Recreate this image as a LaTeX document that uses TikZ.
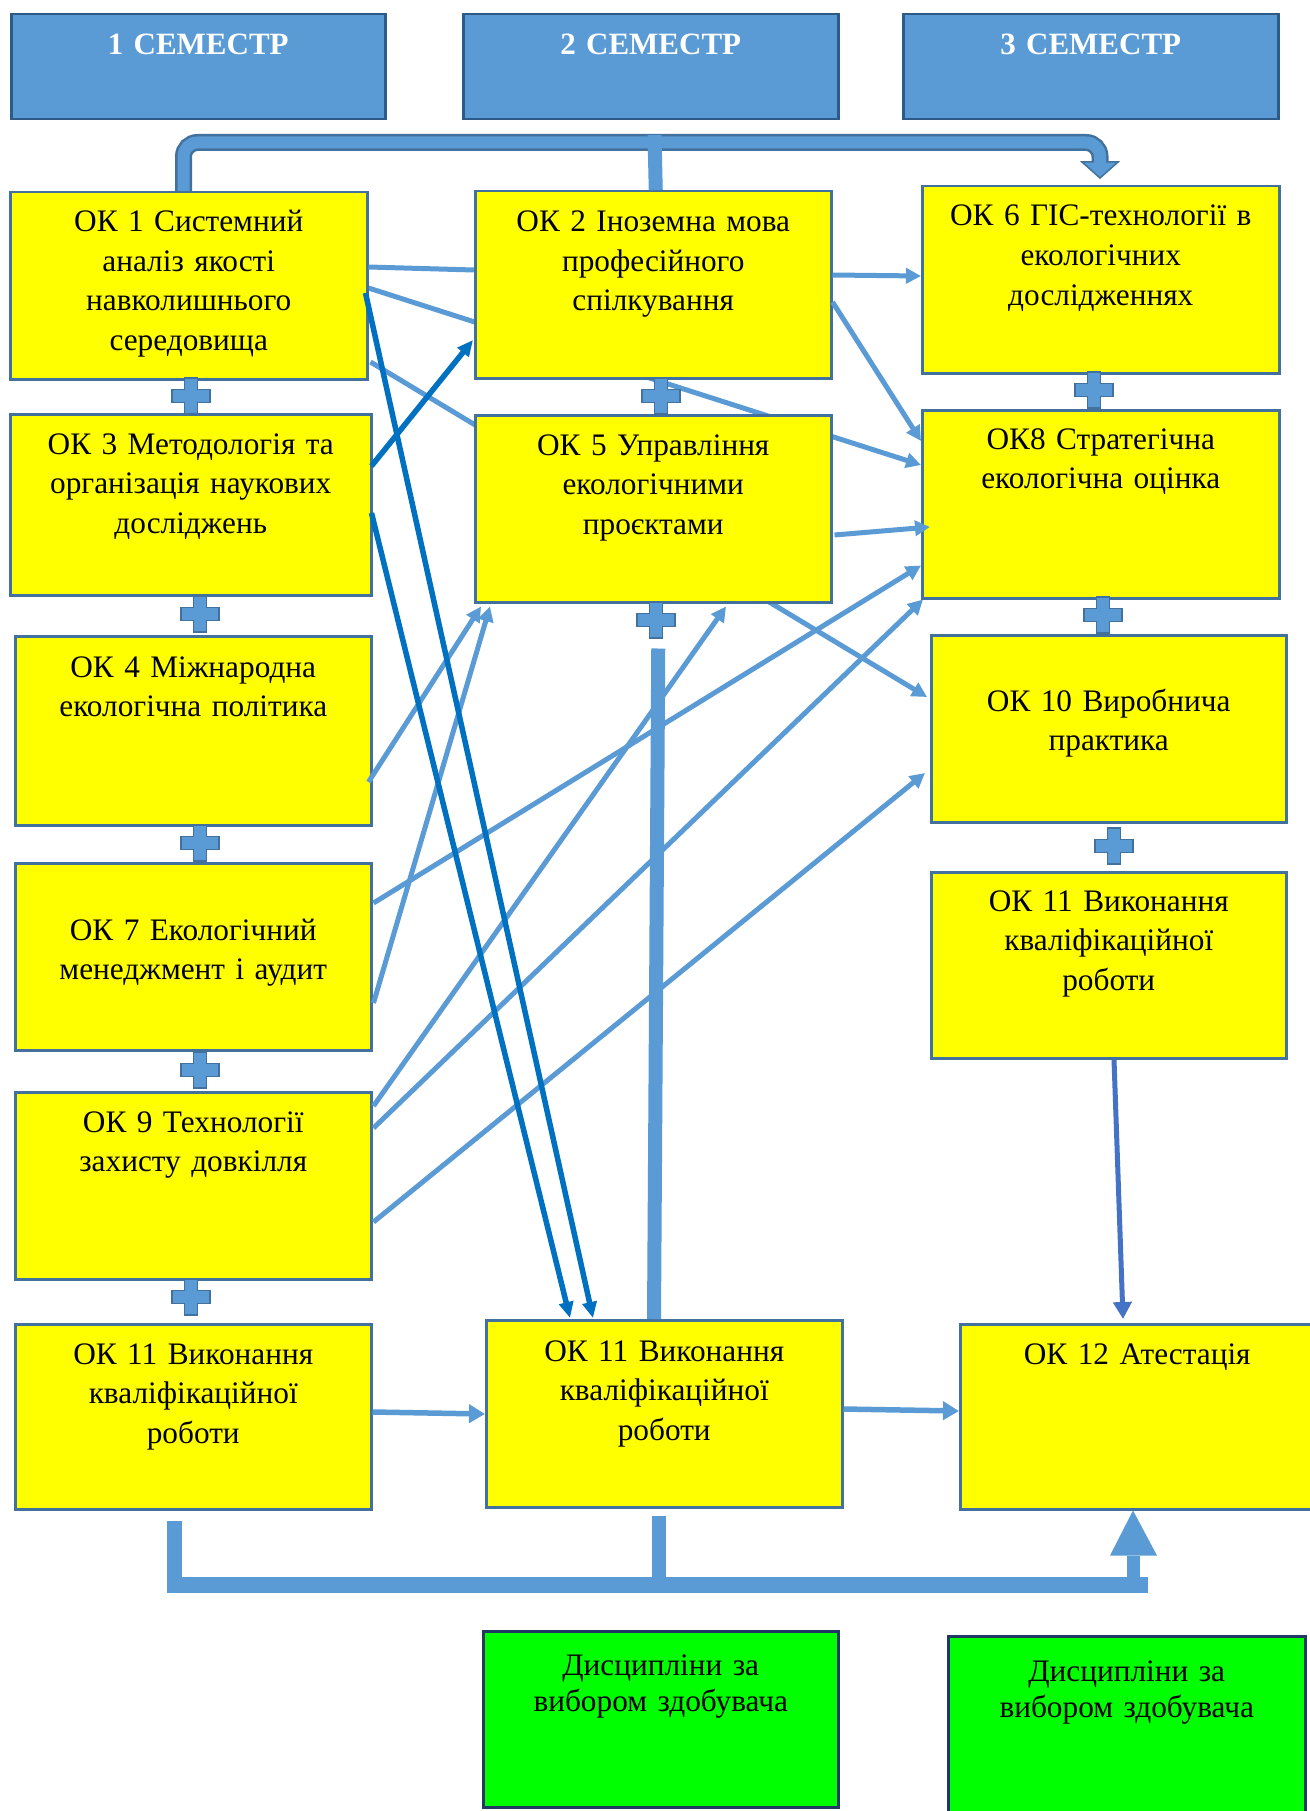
\documentclass[tikz,border=0pt]{standalone}
\usepackage{fontspec}
\setmainfont{Liberation Serif}
\usetikzlibrary{arrows.meta,calc}
\pgfdeclarelayer{background}
\pgfsetlayers{background,main}
\definecolor{lb}{HTML}{5B9BD5}
\definecolor{db}{HTML}{0070C0}
\definecolor{mb}{HTML}{4472C4}
\definecolor{edge}{HTML}{41719C}
\definecolor{hedge}{HTML}{2E5A87}
\definecolor{yel}{HTML}{FFFF00}
\definecolor{grn}{HTML}{00FF00}
\definecolor{gedge}{HTML}{203864}
\tikzset{
  ybox/.style={draw=edge, line width=2.5pt, fill=yel, rectangle, inner sep=0pt, anchor=north west},
  gbox/.style={draw=gedge, line width=2.5pt, fill=grn, rectangle, inner sep=0pt, anchor=north west},
  hbox/.style={draw=hedge, line width=2.5pt, fill=lb, rectangle, inner sep=0pt, anchor=north west},
  txt/.style={anchor=base, inner sep=0pt, text width=354pt, align=center, font=\fontsize{31.3}{39.5}\selectfont},
  gtxt/.style={txt, font=\fontsize{31.3}{36}\selectfont},
  htxt/.style={txt, text=white, font=\fontsize{31}{38}\selectfont\bfseries},
  lline/.style={draw=lb, line width=5pt},
  larr/.style={lline, -{Triangle[length=15pt,width=15pt]}},
  larrb/.style={draw=lb, line width=5.5pt, -{Triangle[length=16pt,width=18pt]}},
  darr/.style={draw=db, line width=5.5pt, -{Triangle[length=16pt,width=14pt]}},
  marr/.style={draw=mb, line width=5pt, -{Triangle[length=17pt,width=18pt]}},
  plussign/.pic={\filldraw[fill=lb, draw=edge, line width=1.5pt]
    (-6.5,-18)--(6.5,-18)--(6.5,-6.5)--(19,-6.5)--(19,6.5)--(6.5,6.5)--(6.5,18)
    --(-6.5,18)--(-6.5,6.5)--(-19,6.5)--(-19,-6.5)--(-6.5,-6.5)--cycle;}
}
\begin{document}
\begin{tikzpicture}[x=1pt,y=-1pt]
\useasboundingbox (0,0) rectangle (1309,1811);

% semester headers
\node[hbox, minimum width=374pt, minimum height=105pt] (h1) at (10,13) {};
\node[hbox, minimum width=375pt, minimum height=105pt] (h2) at (462,13) {};
\node[hbox, minimum width=375pt, minimum height=105pt] (h3) at (902,13) {};
\node[htxt] (h1t) at ($(h1.north)+(0,42)$) {1 СЕМЕСТР};
\node[htxt] (h2t) at ($(h2.north)+(0,42)$) {2 СЕМЕСТР};
\node[htxt] (h3t) at ($(h3.north)+(0,42)$) {3 СЕМЕСТР};

% yellow boxes
\node[ybox, minimum width=357pt, minimum height=187pt] (ok1) at (9,191) {};
\node[ybox, minimum width=361pt, minimum height=181pt] (ok3) at (9,413) {};
\node[ybox, minimum width=356pt, minimum height=189pt] (ok4) at (14,635) {};
\node[ybox, minimum width=356pt, minimum height=187pt] (ok7) at (14,862) {};
\node[ybox, minimum width=356pt, minimum height=187pt] (ok9) at (14,1091) {};
\node[ybox, minimum width=356pt, minimum height=185pt] (ok11a) at (14,1323) {};
\node[ybox, minimum width=356pt, minimum height=187pt] (ok2) at (474,190) {};
\node[ybox, minimum width=356pt, minimum height=187pt] (ok5) at (474,414) {};
\node[ybox, minimum width=356pt, minimum height=187pt] (ok11b) at (485,1319) {};
\node[ybox, minimum width=357pt, minimum height=187pt] (ok6) at (921,185) {};
\node[ybox, minimum width=357pt, minimum height=188pt] (ok8) at (921,409) {};
\node[ybox, minimum width=355pt, minimum height=187pt] (ok10) at (930,634) {};
\node[ybox, minimum width=355pt, minimum height=186pt] (ok11c) at (930,871) {};
\node[ybox, minimum width=354pt, minimum height=185pt] (ok12) at (959,1323) {};

% green boxes
\node[gbox, minimum width=355pt, minimum height=176pt] (g1) at (482,1630) {};
\node[gbox, minimum width=357pt, minimum height=190pt] (g2) at (947,1635) {};

% texts
\node[txt] (ok1t) at ($(ok1.north)+(0,41)$) {ОК 1 Системний\\аналіз якості\\навколишнього\\середовища};
\node[txt] (ok3t) at ($(ok3.north)+(0,41)$) {ОК 3 Методологія та\\організація наукових\\досліджень};
\node[txt] (ok4t) at ($(ok4.north)+(0,42)$) {ОК 4 Міжнародна\\екологічна політика};
\node[txt] (ok7t) at ($(ok7.north)+(0,78)$) {ОК 7 Екологічний\\менеджмент і аудит};
\node[txt] (ok9t) at ($(ok9.north)+(0,41)$) {ОК 9 Технології\\захисту довкілля};
\node[txt] (ok11at) at ($(ok11a.north)+(0,41)$) {ОК 11 Виконання\\кваліфікаційної\\роботи};
\node[txt] (ok2t) at ($(ok2.north)+(0,42)$) {ОК 2 Іноземна мова\\професійного\\спілкування};
\node[txt] (ok5t) at ($(ok5.north)+(0,41)$) {ОК 5 Управління\\екологічними\\проєктами};
\node[txt] (ok11bt) at ($(ok11b.north)+(0,42)$) {ОК 11 Виконання\\кваліфікаційної\\роботи};
\node[txt] (ok6t) at ($(ok6.north)+(0,41)$) {ОК 6 ГІС-технології в\\екологічних\\дослідженнях};
\node[txt] (ok8t) at ($(ok8.north)+(0,40)$) {ОК8 Стратегічна\\екологічна оцінка};
\node[txt] (ok10t) at ($(ok10.north)+(0,77)$) {ОК 10 Виробнича\\практика};
\node[txt] (ok11ct) at ($(ok11c.north)+(0,40)$) {ОК 11 Виконання\\кваліфікаційної\\роботи};
\node[txt] (ok12t) at ($(ok12.north)+(0,41)$) {ОК 12 Атестація};
\node[gtxt] (g1t) at ($(g1.north)+(0,45)$) {Дисципліни за\\вибором здобувача};
\node[gtxt] (g2t) at ($(g2.north)+(0,46)$) {Дисципліни за\\вибором здобувача};

% white page and lines passing behind boxes
\begin{pgfonlayer}{background}
\fill[white] (0,0) rectangle (1309,1811);
\draw[larr] ($(ok1.north east)+(0,97)$) -- ($(ok8.north west)+(0,56)$);
\draw[larr] ($(ok1.north east)+(2,171)$) -- ($(ok10.north west)+(-3,63)$);
\end{pgfonlayer}

% light blue connectors
\draw[lline] ($(ok1.north east)+(0,76)$) -- ($(ok2.north west)+(0,80)$);
\draw[larr] ($(ok2.north east)+(0,85)$) -- ($(ok6.north west)+(0,91)$);
\draw[larr] ($(ok2.north east)+(0,112)$) -- ($(ok8.north west)+(0,32)$);
\draw[larr] ($(ok5.north east)+(2,121)$) -- ($(ok8.north west)+(9,118)$);
\draw[larr] ($(ok4.north east)+(-4,147)$) -- ($(ok5.south west)+(7,3)$);
\draw[larr] ($(ok7.north east)+(1,141)$) -- ($(ok5.south west)+(16,3)$);
\draw[larr] ($(ok7.north east)+(1,41)$) -- ($(ok8.south west)+(0,-34)$);
\draw[larr] ($(ok9.north east)+(1,15)$) -- ($(ok5.south west)+(252,3)$);
\draw[larr] ($(ok9.north east)+(1,37)$) -- ($(ok8.south west)+(2,0)$);
\draw[larr] ($(ok9.north east)+(1,131)$) -- ($(ok10.north west)+(-5,139)$);
\draw[larrb] ($(ok11a.north east)+(0,89)$) -- ($(ok11b.north west)+(0,95)$);
\draw[larrb] ($(ok11b.north east)+(0,90)$) -- ($(ok12.north west)+(0,88)$);

% dark blue connectors
\draw[darr] ($(ok1.north east)+(-3,102)$) -- ($(ok11b.north west)+(108,-1)$);
\draw[darr] ($(ok3.north east)+(-1,100)$) -- ($(ok11b.north west)+(85,-1)$);
\draw[darr] ($(ok3.north east)+(-1,53)$) -- ($(ok2.north west)+(-1,150)$);
\draw[marr] ($(ok11c.south west)+(184,0)$) -- ($(ok12.north west)+(164,-4)$);

% big vertical stem
\draw[lb, line width=14pt] ($(ok5.south)+(5,45)$) -- ($(ok11b.north west)+(169,0)$);

% top bracket arrow
\draw[edge, line width=17pt, rounded corners=14pt] ($(ok1.north west)+(174.5,0)$) -- (183.5,142.5) -- (1100,142.5) -- (1100,164);
\filldraw[fill=lb, draw=edge, line width=1.5pt] (1082,162) -- (1118,162) -- ($(ok6.north west)+(179,-7)$) -- cycle;
\draw[lb, line width=12pt, rounded corners=14pt] ($(ok1.north west)+(174.5,0)$) -- (183.5,142.5) -- (1100,142.5) -- (1100,165);
\draw[lb, line width=14pt] ($(ok2.north)+(2.5,0)$) -- (654.5,135);

% bottom bracket arrow
\fill[lb] ($(ok11a.south west)+(153,10)$) rectangle ($(ok11a.south west)+(168,82)$);
\fill[lb] ($(ok11a.south west)+(153,66)$) rectangle ($(ok12.south west)+(189,82)$);
\fill[lb] ($(ok11b.south)+(-12,7)$) rectangle ($(ok11b.south)+(2,68)$);
\fill[lb] ($(ok12.south west)+(168,45)$) rectangle ($(ok12.south west)+(181,72)$);
\fill[lb] ($(ok12.south west)+(151,45)$) -- ($(ok12.south west)+(174,0)$) -- ($(ok12.south west)+(198,45)$) -- cycle;

% plus signs
\pic at (191,396) {plussign};
\pic at (200,614) {plussign};
\pic at (200,843) {plussign};
\pic at (200,1070) {plussign};
\pic at (191,1297) {plussign};
\pic at (661,396) {plussign};
\pic at (656,620) {plussign};
\pic at (1094,390) {plussign};
\pic at (1103,615) {plussign};
\pic at (1114,846) {plussign};
\end{tikzpicture}
\end{document}
